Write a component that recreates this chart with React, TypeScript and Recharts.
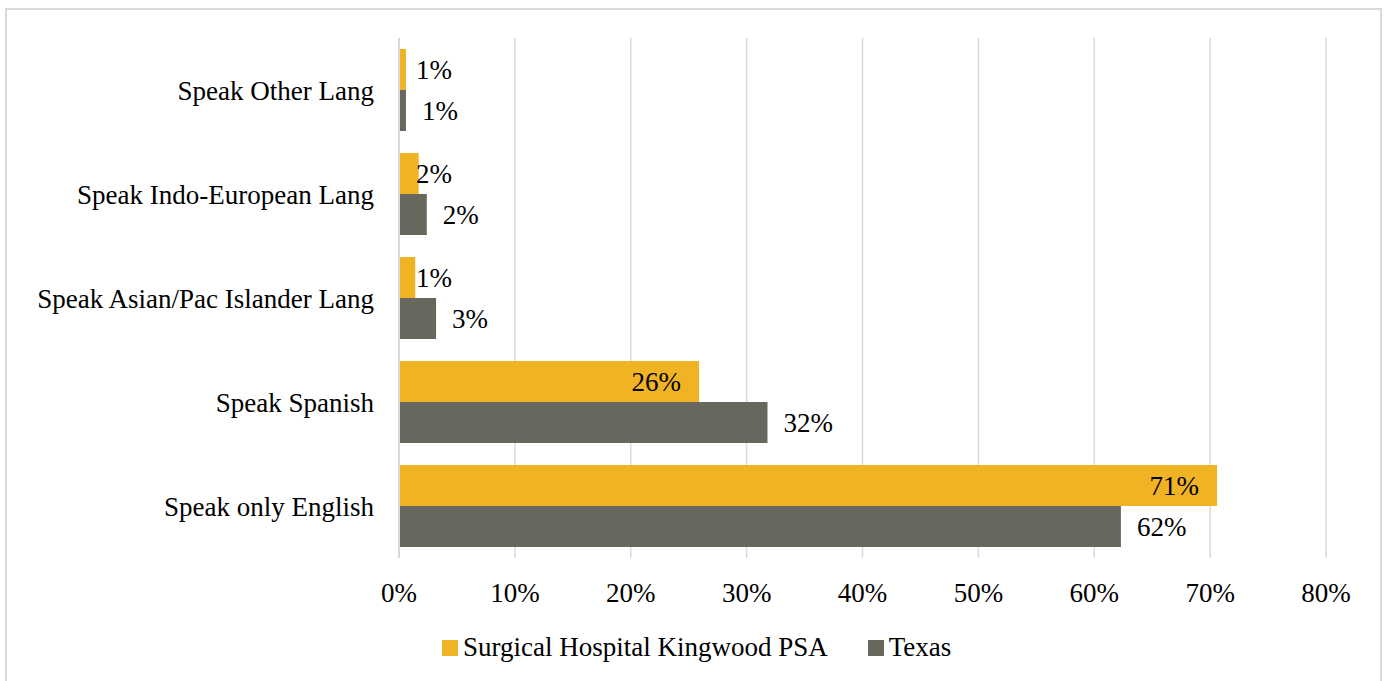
import React from 'react';
import { BarChart, Bar, XAxis, YAxis, CartesianGrid, Legend, LabelList } from 'recharts';

const categories = [
  'Speak Other Lang',
  'Speak Indo-European Lang',
  'Speak Asian/Pac Islander Lang',
  'Speak Spanish',
  'Speak only English',
];
const psaValues = [0.6, 1.7, 1.4, 25.9, 70.6];
const texasValues = [0.6, 2.4, 3.2, 31.8, 62.3];
const xTicks = [0, 10, 20, 30, 40, 50, 60, 70, 80];

const PSA_NAME = 'Surgical Hospital Kingwood PSA';
const TX_NAME = 'Texas';
const PSA_COLOR = '#F0B323';
const TX_COLOR = '#67675D';
const GRID = '#D9D9D9';
const FONT = '"Liberation Serif", serif';

const data = categories.map((name, i) => ({ name, psa: psaValues[i], texas: texasValues[i] }));

const PsaLabel = (p: any) => {
  const { x, y, width, height, value } = p;
  const big = width > 100;
  return (
    <text
      x={big ? x + width - 18 : x + 17}
      y={y + height / 2}
      textAnchor={big ? 'end' : 'start'}
      dominantBaseline="central"
      fontFamily={FONT}
      fontSize={27}
      fill="#000"
    >
      {Math.round(value)}%
    </text>
  );
};

const TxLabel = (p: any) => {
  const { x, y, width, height, value } = p;
  return (
    <text
      x={x + width + 16}
      y={y + height / 2}
      textAnchor="start"
      dominantBaseline="central"
      fontFamily={FONT}
      fontSize={27}
      fill="#000"
    >
      {Math.round(value)}%
    </text>
  );
};

const LegendContent = () => (
  <div
    style={{
      display: 'flex',
      justifyContent: 'flex-start',
      alignItems: 'center',
      height: 30,
      fontFamily: FONT,
      fontSize: 27,
      lineHeight: '30px',
      color: '#000',
      paddingLeft: 442,
    }}
  >
    <span style={{ display: 'inline-block', width: 16, height: 16, background: PSA_COLOR, marginRight: 5, marginTop: 2 }} />
    <span>{PSA_NAME}</span>
    <span style={{ display: 'inline-block', width: 16, height: 16, background: TX_COLOR, marginLeft: 40, marginRight: 5, marginTop: 2 }} />
    <span>{TX_NAME}</span>
  </div>
);

export default function App() {
  return (
    <div style={{ position: 'absolute', left: 0, top: 0, width: 1385, height: 681, background: '#fff', overflow: 'hidden' }}>
      <div
        style={{
          position: 'absolute',
          left: 5,
          top: 8,
          width: 1377,
          height: 700,
          border: `2px solid ${GRID}`,
          boxSizing: 'border-box',
        }}
      />
      <div style={{ position: 'absolute', left: 0, top: 0 }}>
        <BarChart
          width={1385}
          height={681}
          data={data}
          layout="vertical"
          margin={{ top: 38, right: 59, left: 0, bottom: 19 }}
          barGap={0}
          barSize={41}
        >
          <CartesianGrid horizontal={false} vertical stroke={GRID} strokeWidth={1.5} />
          <XAxis
            type="number"
            domain={[0, 80]}
            ticks={xTicks}
            tickFormatter={(v: number) => `${v}%`}
            axisLine={false}
            tickLine={false}
            tickSize={0}
            tickMargin={25}
            height={74}
            interval={0}
            tick={{ fontFamily: FONT, fontSize: 27, fill: '#000' }}
          />
          <YAxis
            type="category"
            dataKey="name"
            width={399}
            axisLine={{ stroke: GRID, strokeWidth: 2 }}
            tickLine={false}
            tickSize={0}
            tickMargin={25}
            interval={0}
            tick={{ fontFamily: FONT, fontSize: 27, fill: '#000' }}
          />
          <Legend verticalAlign="bottom" height={30} content={<LegendContent />} />
          <Bar dataKey="psa" name={PSA_NAME} fill={PSA_COLOR} isAnimationActive={false}>
            <LabelList dataKey="psa" content={PsaLabel} />
          </Bar>
          <Bar dataKey="texas" name={TX_NAME} fill={TX_COLOR} isAnimationActive={false}>
            <LabelList dataKey="texas" content={TxLabel} />
          </Bar>
        </BarChart>
      </div>
    </div>
  );
}
